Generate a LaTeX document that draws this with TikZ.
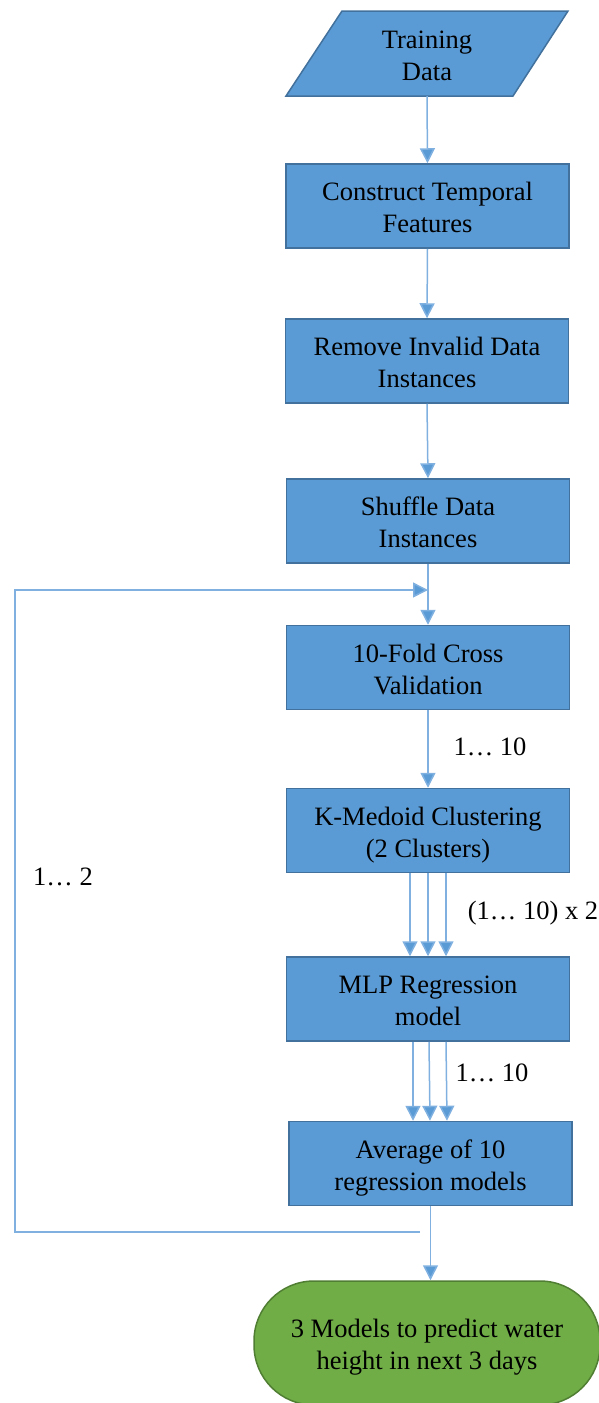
\documentclass[tikz,border=0pt]{standalone}
\usepackage{fontspec}
\setmainfont{Liberation Serif}
\usetikzlibrary{arrows.meta}
\definecolor{boxblue}{HTML}{5B9BD5}
\definecolor{boxedge}{HTML}{41719C}
\definecolor{arrblue}{HTML}{5B9BD5}
\definecolor{lineblue}{HTML}{7FB0E0}
\definecolor{gfill}{HTML}{70AD47}
\definecolor{gedge}{HTML}{507E32}
\tikzset{
  twoline/.style={align=center, text height=53pt, text depth=0pt, font=\fontsize{26.5}{32}\selectfont},
  stepbox/.style={draw=boxedge, fill=boxblue, line width=1.5pt, minimum width=283pt, minimum height=84pt, inner sep=0pt, twoline},
  txt/.style={font=\fontsize{26.5}{32}\selectfont, inner sep=0pt},
  conn/.style={draw=lineblue, line width=1.5pt},
  arr/.style={conn, -{Triangle[width=15pt,length=15pt,fill=arrblue]}},
}
\begin{document}
\begin{tikzpicture}[x=1pt,y=-1pt]
\useasboundingbox (0,0) rectangle (599,1403);
% parallelogram
\draw[draw=boxedge, fill=boxblue, line width=1.5pt] (342,11) -- (568,11) -- (513,96) -- (286,96) -- cycle;
\node[txt, twoline, minimum height=85pt] (td) at (427,53.5) {Training\\Data};
\node[stepbox] (b2) at (427.5,206) {Construct Temporal\\Features};
\node[stepbox] (b3) at (427,361) {Remove Invalid Data\\Instances};
\node[stepbox] (b4) at (428,521) {Shuffle Data\\Instances};
\node[stepbox] (b5) at (428,667.5) {10-Fold Cross\\Validation};
\node[stepbox] (b6) at (428,830.5) {K-Medoid Clustering\\(2 Clusters)};
\node[stepbox] (b7) at (428,999) {MLP Regression\\model};
\node[stepbox] (b8) at (430.5,1163.5) {Average of 10\\regression models};
\node[draw=gedge, fill=gfill, line width=1.5pt, rounded corners=60pt, minimum width=346pt, minimum height=124pt, inner sep=0pt, twoline] (g) at (427,1343) {3 Models to predict water\\height in next 3 days};
% connectors
\draw[arr] (td.south) -- (b2.north);
\draw[arr] (b2.south) -- (b3.north);
\draw[arr] (b3.south) -- (b4.north);
\draw[arr] (b4.south) -- (b5.north);
\draw[arr] (b5.south) -- (b6.north);
\foreach \o in {-18,0,18}{
  \draw[arr] ([xshift=\o pt]b6.south) -- ([xshift=\o pt]b7.north);
}
\draw[arr] ([xshift=-15pt]b7.south) -- ([xshift=-17.5pt]b8.north);
\draw[arr] ([xshift=1pt]b7.south) -- ([xshift=-0.5pt]b8.north);
\draw[arr] ([xshift=18pt]b7.south) -- ([xshift=16.5pt]b8.north);
\draw[arr] (b8.south) -- ([xshift=3.5pt]g.north);
% loop
\coordinate (L0) at (420,1232);
\coordinate (L1) at (15,1232);
\coordinate (L2) at (15,590);
\coordinate (L3) at (428,590);
\draw[arr] (L0) -- (L1) -- (L2) -- (L3);
% labels
\node[txt] (l1) at (490,747) {1… 10};
\node[txt] (l2) at (533,913) {(1… 10) x 2};
\node[txt] (l3) at (492,1073) {1… 10};
\node[txt] (l4) at (63,877) {1… 2};
\end{tikzpicture}
\end{document}
